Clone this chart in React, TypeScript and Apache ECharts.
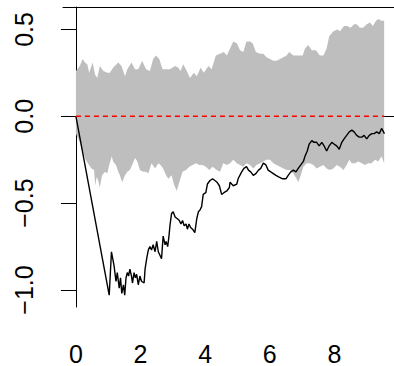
import React, { useEffect, useRef } from "react";
import * as echarts from "echarts";

// Upper edge of the grey band: [x, y]
const upperBand: [number, number][] = [
  [0, 0.26], [0.12, 0.29], [0.21, 0.33], [0.28, 0.31], [0.35, 0.30], [0.41, 0.25],
  [0.52, 0.31], [0.59, 0.24], [0.66, 0.22], [0.74, 0.29], [0.85, 0.26], [0.97, 0.25],
  [1.05, 0.25], [1.15, 0.28], [1.31, 0.31], [1.41, 0.29], [1.52, 0.23], [1.59, 0.27],
  [1.72, 0.31], [1.83, 0.27], [1.93, 0.27], [2.05, 0.32], [2.17, 0.27], [2.29, 0.26],
  [2.39, 0.33], [2.48, 0.35], [2.58, 0.33], [2.68, 0.27], [2.81, 0.27], [2.91, 0.27],
  [3.07, 0.29], [3.17, 0.28], [3.24, 0.26], [3.32, 0.30], [3.43, 0.26], [3.53, 0.22],
  [3.65, 0.25], [3.74, 0.23], [3.86, 0.28], [3.96, 0.25], [4.10, 0.29], [4.20, 0.27],
  [4.33, 0.35], [4.46, 0.36], [4.58, 0.37], [4.67, 0.35], [4.77, 0.39], [4.87, 0.43],
  [4.98, 0.42], [5.08, 0.38], [5.18, 0.37], [5.28, 0.43], [5.39, 0.43], [5.47, 0.42],
  [5.57, 0.37], [5.70, 0.36], [5.80, 0.36], [5.90, 0.34], [6.01, 0.33], [6.11, 0.32],
  [6.21, 0.32], [6.32, 0.33], [6.42, 0.34], [6.52, 0.35], [6.60, 0.37], [6.73, 0.35],
  [6.83, 0.35], [6.93, 0.35], [7.02, 0.35], [7.09, 0.39], [7.19, 0.41], [7.30, 0.38],
  [7.43, 0.38], [7.55, 0.35], [7.66, 0.35], [7.76, 0.39], [7.84, 0.46], [7.97, 0.49],
  [8.09, 0.50], [8.17, 0.49], [8.30, 0.52], [8.40, 0.52], [8.50, 0.51], [8.61, 0.53],
  [8.69, 0.53], [8.79, 0.51], [8.89, 0.51], [9.00, 0.53], [9.10, 0.54], [9.19, 0.52],
  [9.29, 0.55], [9.36, 0.56], [9.46, 0.55], [9.54, 0.55],
];

// Lower edge of the grey band: [x, y]
const lowerBand: [number, number][] = [
  [0, -0.10], [0.10, -0.14], [0.30, -0.25], [0.48, -0.30], [0.56, -0.31], [0.60, -0.40],
  [0.64, -0.35], [0.69, -0.37], [0.74, -0.41], [0.81, -0.34], [0.90, -0.32], [0.97, -0.33],
  [1.03, -0.28], [1.11, -0.23], [1.15, -0.26], [1.24, -0.28], [1.31, -0.32], [1.36, -0.34],
  [1.43, -0.38], [1.52, -0.34], [1.59, -0.32], [1.67, -0.31], [1.74, -0.28], [1.83, -0.24],
  [1.90, -0.26], [1.98, -0.31], [2.08, -0.32], [2.17, -0.32], [2.24, -0.33], [2.34, -0.27],
  [2.45, -0.30], [2.55, -0.27], [2.62, -0.28], [2.70, -0.30], [2.79, -0.34], [2.86, -0.36],
  [2.96, -0.34], [3.03, -0.39], [3.12, -0.43], [3.20, -0.38], [3.30, -0.32], [3.41, -0.31],
  [3.51, -0.29], [3.61, -0.28], [3.72, -0.27], [3.82, -0.28], [3.92, -0.28], [4.02, -0.29],
  [4.13, -0.31], [4.23, -0.29], [4.36, -0.31], [4.46, -0.32], [4.56, -0.27], [4.67, -0.28],
  [4.77, -0.27], [4.87, -0.25], [4.98, -0.27], [5.08, -0.28], [5.18, -0.29], [5.28, -0.27],
  [5.39, -0.28], [5.49, -0.30], [5.59, -0.28], [5.70, -0.27], [5.80, -0.26], [5.90, -0.25],
  [6.01, -0.25], [6.11, -0.27], [6.21, -0.28], [6.32, -0.29], [6.42, -0.30], [6.52, -0.31],
  [6.63, -0.31], [6.73, -0.33], [6.83, -0.36], [6.88, -0.38], [6.96, -0.34], [7.04, -0.29],
  [7.14, -0.27], [7.24, -0.27], [7.35, -0.28], [7.45, -0.30], [7.55, -0.29], [7.66, -0.28],
  [7.76, -0.30], [7.86, -0.31], [7.97, -0.30], [8.07, -0.28], [8.17, -0.29], [8.28, -0.31],
  [8.38, -0.28], [8.46, -0.25], [8.54, -0.27], [8.64, -0.27], [8.74, -0.26], [8.85, -0.27],
  [8.95, -0.28], [9.05, -0.27], [9.15, -0.27], [9.26, -0.25], [9.36, -0.26], [9.46, -0.23],
  [9.54, -0.27],
];

// Black path: [x, y]
const walkPath: [number, number][] = [
  [0, 0], [1.03, -1.03], [1.10, -0.78], [1.18, -0.86], [1.24, -0.95], [1.28, -0.90],
  [1.34, -0.99], [1.38, -0.93], [1.42, -1.02], [1.47, -0.97], [1.51, -1.03], [1.55, -0.93],
  [1.59, -0.90], [1.63, -0.92], [1.67, -0.88], [1.72, -0.92], [1.75, -0.96], [1.80, -0.90],
  [1.84, -0.93], [1.88, -0.91], [1.93, -0.97], [1.98, -0.92], [2.03, -0.95], [2.11, -0.96],
  [2.14, -0.88], [2.19, -0.82], [2.24, -0.77], [2.29, -0.75], [2.34, -0.77], [2.39, -0.74],
  [2.45, -0.78], [2.50, -0.72], [2.55, -0.78], [2.60, -0.80], [2.65, -0.82], [2.70, -0.69],
  [2.76, -0.74], [2.79, -0.72], [2.84, -0.75], [2.88, -0.69], [2.91, -0.63], [2.96, -0.56],
  [3.01, -0.55], [3.07, -0.58], [3.14, -0.59], [3.20, -0.60], [3.25, -0.62], [3.30, -0.60],
  [3.35, -0.63], [3.41, -0.62], [3.45, -0.65], [3.50, -0.62], [3.55, -0.64], [3.61, -0.65],
  [3.68, -0.67], [3.74, -0.59], [3.79, -0.55], [3.84, -0.54], [3.89, -0.52], [3.94, -0.45],
  [4.02, -0.44], [4.07, -0.39], [4.15, -0.37], [4.23, -0.36], [4.30, -0.37], [4.37, -0.38],
  [4.44, -0.40], [4.51, -0.45], [4.58, -0.44], [4.67, -0.43], [4.75, -0.41], [4.77, -0.38],
  [4.87, -0.40], [4.98, -0.39], [5.02, -0.36], [5.13, -0.32], [5.20, -0.30], [5.28, -0.29],
  [5.34, -0.31], [5.41, -0.32], [5.49, -0.34], [5.57, -0.33], [5.65, -0.31], [5.72, -0.30],
  [5.80, -0.27], [5.88, -0.28], [5.95, -0.31], [6.03, -0.32], [6.11, -0.33], [6.19, -0.34],
  [6.29, -0.35], [6.40, -0.36], [6.50, -0.36], [6.57, -0.34], [6.65, -0.32], [6.73, -0.31],
  [6.81, -0.32], [6.88, -0.30], [6.96, -0.28], [7.04, -0.26], [7.09, -0.23], [7.16, -0.20],
  [7.22, -0.16], [7.30, -0.14], [7.37, -0.15], [7.45, -0.15], [7.53, -0.17], [7.61, -0.15],
  [7.68, -0.17], [7.76, -0.20], [7.84, -0.17], [7.92, -0.15], [7.99, -0.16], [8.07, -0.17],
  [8.15, -0.19], [8.23, -0.15], [8.30, -0.13], [8.38, -0.11], [8.46, -0.09], [8.54, -0.08],
  [8.61, -0.09], [8.69, -0.11], [8.77, -0.12], [8.85, -0.12], [8.92, -0.11], [9.00, -0.13],
  [9.08, -0.11], [9.16, -0.10], [9.23, -0.10], [9.31, -0.09], [9.39, -0.10], [9.46, -0.07],
  [9.55, -0.10],
];

// Reference line y = 0
const refLine: [number, number][] = [[0, 0], [9.54, 0]];

const xTicks = [0, 2, 4, 6, 8];
const yTicks = [-1, -0.5, 0, 0.5];

const FONT = "'Liberation Sans', Arial, sans-serif";

export default function App() {
  const ref = useRef<HTMLDivElement>(null);
  useEffect(() => {
    document.body.style.margin = "0";
    if (!ref.current) return;
    const chart = echarts.init(ref.current, undefined, { renderer: "svg" });
    const bandPoly = [...upperBand, ...lowerBand.slice().reverse()];
    chart.setOption({
      animation: false,
      backgroundColor: "#ffffff",
      grid: { left: 63, right: 0, top: 7, bottom: 57 },
      xAxis: [
        {
          type: "value",
          min: -0.4,
          max: 9.845,
          position: "bottom",
          axisLine: { show: true, lineStyle: { color: "#000", width: 1 } },
          axisTick: { show: true, length: 15, customValues: xTicks, lineStyle: { color: "#000" } },
          axisLabel: {
            customValues: xTicks,
            margin: 34,
            fontSize: 25,
            color: "#000",
            fontFamily: FONT,
          },
          splitLine: { show: false },
        },
        {
          type: "value",
          min: -0.4,
          max: 9.845,
          position: "top",
          axisLine: { show: true, lineStyle: { color: "#000", width: 1 } },
          axisTick: { show: false },
          axisLabel: { show: false },
          splitLine: { show: false },
        },
      ],
      yAxis: {
        type: "value",
        min: -1.098,
        max: 0.629,
        axisLine: { show: true, lineStyle: { color: "#000", width: 1 } },
        axisTick: { show: true, length: 15, customValues: yTicks, lineStyle: { color: "#000" } },
        axisLabel: {
          customValues: yTicks,
          rotate: 90,
          margin: 27,
          fontSize: 25,
          color: "#000",
          fontFamily: FONT,
          formatter: (v: number) => v.toFixed(1).replace("-", "\u2212"),
        },
        splitLine: { show: false },
      },
      series: [
        {
          type: "custom",
          silent: true,
          data: [[0, 0]],
          z: 1,
          renderItem: (_params: any, api: any) => {
            const pts = bandPoly.map((p) => api.coord(p));
            return {
              type: "polygon",
              shape: { points: pts },
              style: { fill: "#BEBEBE", stroke: "none" },
            };
          },
        },
        {
          type: "line",
          data: walkPath,
          showSymbol: false,
          z: 3,
          lineStyle: { color: "#000", width: 1.4 },
        },
        {
          type: "line",
          data: refLine,
          showSymbol: false,
          z: 4,
          lineStyle: { color: "#FF0000", width: 1.5, type: [5, 4] },
        },
      ],
    });
    return () => chart.dispose();
  }, []);
  return (
    <div
      ref={ref}
      style={{ position: "absolute", left: 0, top: 0, width: 394, height: 366 }}
    />
  );
}
